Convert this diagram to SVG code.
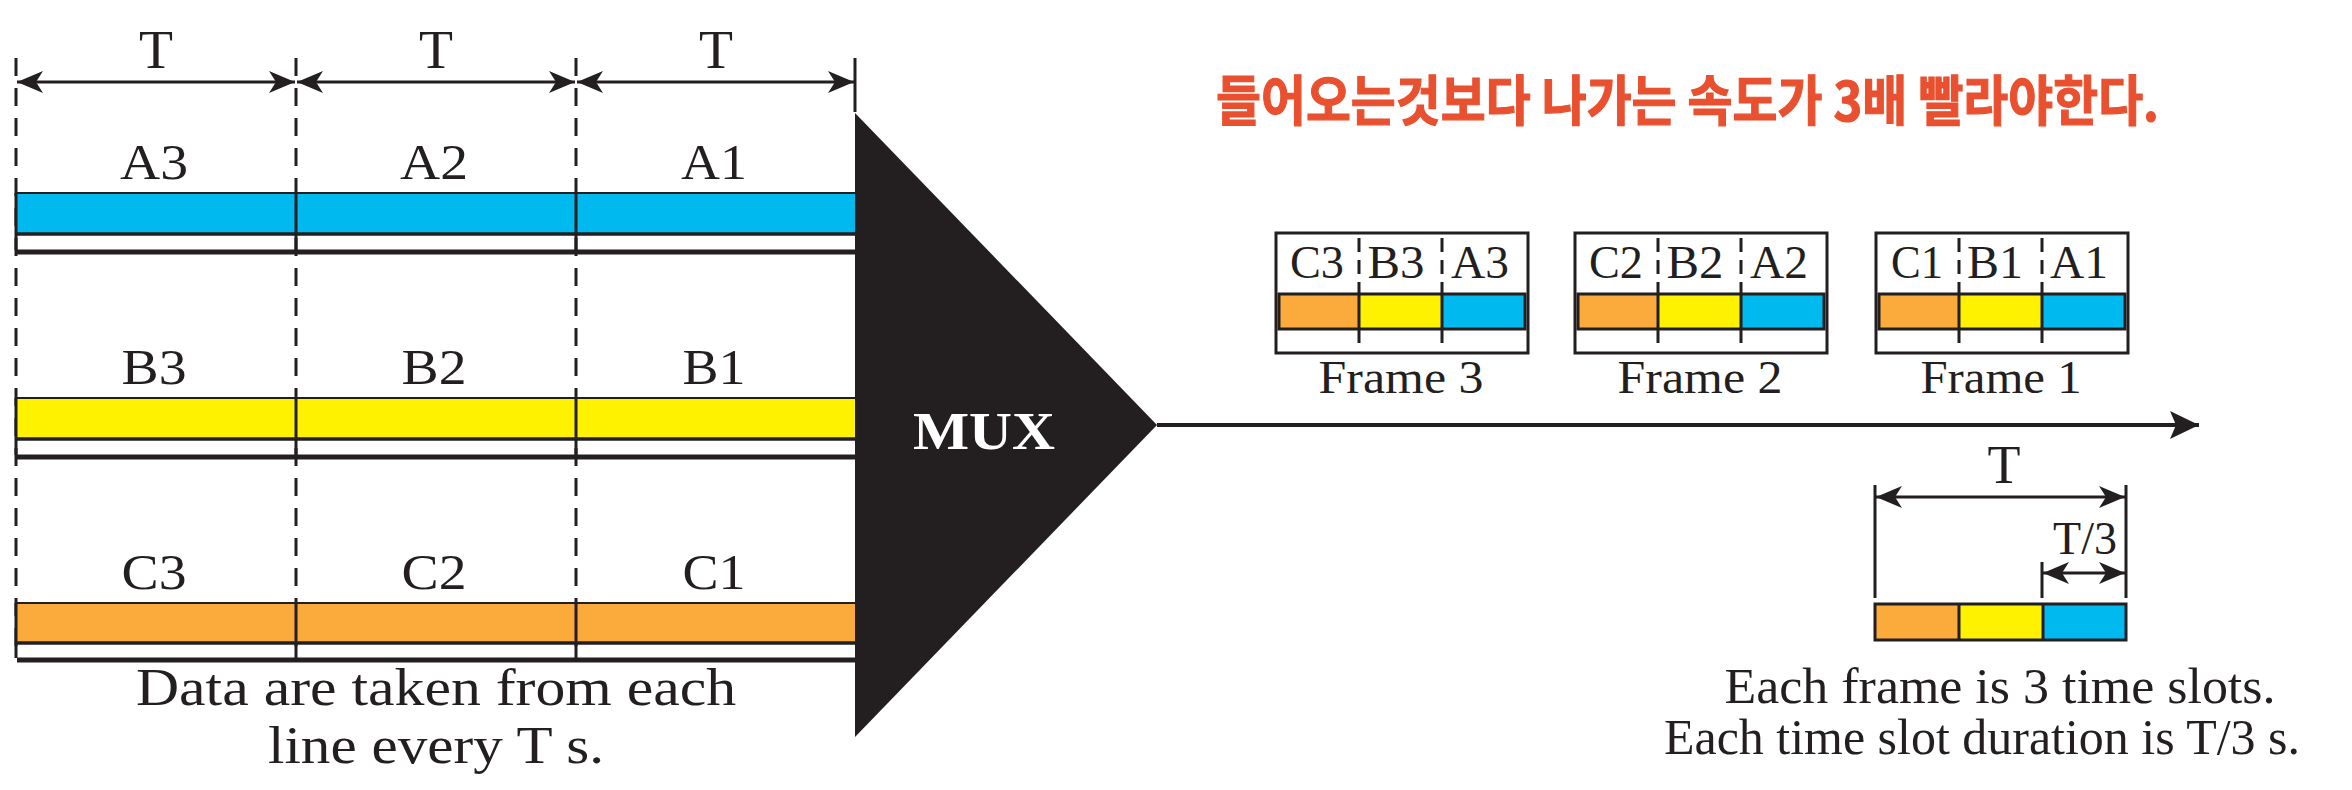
<svg xmlns="http://www.w3.org/2000/svg" width="2352" height="790" viewBox="0 0 2352 790">
<style>
.t{font-family:"Liberation Serif","Times New Roman",serif;fill:#231f20}
.c{text-anchor:middle}
.big{font-size:54px}
.lbl{font-size:51px}
.fl{font-size:46px}
.dash{stroke:#231f20;stroke-width:3;stroke-dasharray:18 12;fill:none}
.sol{stroke:#231f20;stroke-width:3;fill:none}
.ar{stroke:#231f20;stroke-width:3;fill:none;marker-start:url(#ah);marker-end:url(#ah)}
.blue{fill:#00b9ef}
.yel{fill:#fff200}
.org{fill:#fbaa3c}
.edge{stroke:#231f20;fill:none}
.kor{font-family:"Noto Sans CJK KR","Noto Sans",sans-serif;font-weight:700;fill:#e9502f;stroke:#e9502f;stroke-width:1.2;font-size:54px}
</style>
<defs>
<marker id="ah" markerUnits="userSpaceOnUse" viewBox="-28 -14 30 28" markerWidth="30" markerHeight="28" refX="0" refY="0" orient="auto-start-reverse">
<path d="M0,0 L-26,-11 L-19,0 L-26,11 Z" fill="#231f20"/>
</marker>
<marker id="ahb" markerUnits="userSpaceOnUse" viewBox="-32 -16 34 32" markerWidth="34" markerHeight="32" refX="0" refY="0" orient="auto">
<path d="M0,0 L-29,-14 L-23,0 L-29,14 Z" fill="#231f20"/>
</marker>
</defs>
<rect width="2352" height="790" fill="#ffffff"/>

<g id="input-timing">
<line class="dash" x1="16" y1="58" x2="16" y2="655"/>
<line class="dash" x1="296" y1="58" x2="296" y2="655"/>
<line class="dash" x1="576" y1="58" x2="576" y2="655"/>
<line class="sol" x1="855" y1="58" x2="855" y2="112"/>
<line class="ar" x1="17" y1="82" x2="295" y2="82"/>
<line class="ar" x1="297" y1="82" x2="575" y2="82"/>
<line class="ar" x1="577" y1="82" x2="854" y2="82"/>
<text class="t c big" x="156" y="68" textLength="34" lengthAdjust="spacingAndGlyphs">T</text>
<text class="t c big" x="436" y="68" textLength="34" lengthAdjust="spacingAndGlyphs">T</text>
<text class="t c big" x="716" y="68" textLength="34" lengthAdjust="spacingAndGlyphs">T</text>
</g>

<g id="line-a">
<rect class="blue" x="16" y="193" width="839" height="41"/>
<line class="edge" x1="16" y1="193" x2="855" y2="193" stroke-width="2"/>
<line class="edge" x1="16" y1="234" x2="855" y2="234" stroke-width="3.5"/>
<line class="edge" x1="17" y1="252" x2="855" y2="252" stroke-width="5"/>
<path class="sol" d="M16,193 V250 M296,193 V250 M576,193 V250"/>
<text class="t c lbl" x="154" y="179" textLength="68" lengthAdjust="spacingAndGlyphs">A3</text>
<text class="t c lbl" x="434" y="179" textLength="68" lengthAdjust="spacingAndGlyphs">A2</text>
<text class="t c lbl" x="714" y="179" textLength="66" lengthAdjust="spacingAndGlyphs">A1</text>
</g>

<g id="line-b">
<rect class="yel" x="16" y="398" width="839" height="41"/>
<line class="edge" x1="16" y1="398" x2="855" y2="398" stroke-width="2"/>
<line class="edge" x1="16" y1="439" x2="855" y2="439" stroke-width="3.5"/>
<line class="edge" x1="17" y1="457" x2="855" y2="457" stroke-width="5"/>
<path class="sol" d="M16,398 V455 M296,398 V455 M576,398 V455"/>
<text class="t c lbl" x="154" y="384" textLength="65" lengthAdjust="spacingAndGlyphs">B3</text>
<text class="t c lbl" x="434" y="384" textLength="65" lengthAdjust="spacingAndGlyphs">B2</text>
<text class="t c lbl" x="714" y="384" textLength="63" lengthAdjust="spacingAndGlyphs">B1</text>
</g>

<g id="line-c">
<rect class="org" x="16" y="603" width="839" height="41"/>
<line class="edge" x1="16" y1="603" x2="855" y2="603" stroke-width="2"/>
<line class="edge" x1="16" y1="643" x2="855" y2="643" stroke-width="3.5"/>
<line class="edge" x1="17" y1="660" x2="855" y2="660" stroke-width="5"/>
<path class="sol" d="M16,603 V658 M296,603 V658 M576,603 V658"/>
<text class="t c lbl" x="154" y="589" textLength="65" lengthAdjust="spacingAndGlyphs">C3</text>
<text class="t c lbl" x="434" y="589" textLength="65" lengthAdjust="spacingAndGlyphs">C2</text>
<text class="t c lbl" x="714" y="589" textLength="63" lengthAdjust="spacingAndGlyphs">C1</text>
</g>

<g id="input-caption">
<text class="t" x="136" y="705" font-size="53" textLength="600" lengthAdjust="spacingAndGlyphs">Data are taken from each</text>
<text class="t" x="268" y="763" font-size="53" textLength="336" lengthAdjust="spacingAndGlyphs">line every T s.</text>
</g>

<g id="mux">
<polygon points="855,113 1157,425 855,737" fill="#231f20"/>
<text x="913" y="449" font-family="Liberation Serif,Times New Roman,serif" font-weight="700" font-size="53" fill="#ffffff" textLength="142" lengthAdjust="spacingAndGlyphs">MUX</text>
</g>

<g id="connectors">
<line x1="1157" y1="425" x2="2199" y2="425" stroke="#231f20" stroke-width="4" marker-end="url(#ahb)"/>
</g>

<g id="note">
<text class="kor" x="1216" y="121" textLength="943" lengthAdjust="spacingAndGlyphs">들어오는것보다 나가는 속도가 3배 빨라야한다.</text>
</g>

<g id="frame-3">
<rect x="1276" y="233" width="252" height="120" fill="#ffffff" stroke="#231f20" stroke-width="3"/>
<rect class="org" x="1279" y="294" width="80" height="35"/>
<rect class="yel" x="1359" y="294" width="83" height="35"/>
<rect class="blue" x="1442" y="294" width="83" height="35"/>
<rect class="edge" x="1279" y="294" width="246" height="35" stroke-width="3"/>
<path class="sol" d="M1359,294 V329 M1442,294 V329"/>
<path class="sol" stroke-dasharray="14 8" d="M1359,238 V294 M1442,238 V294 M1359,329 V345 M1442,329 V345"/>
<text class="t c fl" x="1317" y="278" textLength="54" lengthAdjust="spacingAndGlyphs">C3</text>
<text class="t c fl" x="1396" y="278" textLength="57" lengthAdjust="spacingAndGlyphs">B3</text>
<text class="t c fl" x="1480" y="278" textLength="58" lengthAdjust="spacingAndGlyphs">A3</text>
<text class="t c fl" x="1401" y="393" textLength="165" lengthAdjust="spacingAndGlyphs">Frame 3</text>
</g>

<g id="frame-2">
<rect x="1575" y="233" width="252" height="120" fill="#ffffff" stroke="#231f20" stroke-width="3"/>
<rect class="org" x="1578" y="294" width="80" height="35"/>
<rect class="yel" x="1658" y="294" width="83" height="35"/>
<rect class="blue" x="1741" y="294" width="83" height="35"/>
<rect class="edge" x="1578" y="294" width="246" height="35" stroke-width="3"/>
<path class="sol" d="M1658,294 V329 M1741,294 V329"/>
<path class="sol" stroke-dasharray="14 8" d="M1658,238 V294 M1741,238 V294 M1658,329 V345 M1741,329 V345"/>
<text class="t c fl" x="1616" y="278" textLength="54" lengthAdjust="spacingAndGlyphs">C2</text>
<text class="t c fl" x="1695" y="278" textLength="57" lengthAdjust="spacingAndGlyphs">B2</text>
<text class="t c fl" x="1779" y="278" textLength="58" lengthAdjust="spacingAndGlyphs">A2</text>
<text class="t c fl" x="1700" y="393" textLength="165" lengthAdjust="spacingAndGlyphs">Frame 2</text>
</g>

<g id="frame-1">
<rect x="1876" y="233" width="252" height="120" fill="#ffffff" stroke="#231f20" stroke-width="3"/>
<rect class="org" x="1879" y="294" width="80" height="35"/>
<rect class="yel" x="1959" y="294" width="83" height="35"/>
<rect class="blue" x="2042" y="294" width="83" height="35"/>
<rect class="edge" x="1879" y="294" width="246" height="35" stroke-width="3"/>
<path class="sol" d="M1959,294 V329 M2042,294 V329"/>
<path class="sol" stroke-dasharray="14 8" d="M1959,238 V294 M2042,238 V294 M1959,329 V345 M2042,329 V345"/>
<text class="t c fl" x="1917" y="278" textLength="52" lengthAdjust="spacingAndGlyphs">C1</text>
<text class="t c fl" x="1995" y="278" textLength="56" lengthAdjust="spacingAndGlyphs">B1</text>
<text class="t c fl" x="2079" y="278" textLength="58" lengthAdjust="spacingAndGlyphs">A1</text>
<text class="t c fl" x="2001" y="393" textLength="161" lengthAdjust="spacingAndGlyphs">Frame 1</text>
</g>

<g id="slot-legend">
<path class="sol" d="M1875,485 V598 M2126,485 V598 M2042,562 V598"/>
<line class="ar" x1="1876" y1="497" x2="2125" y2="497"/>
<line class="ar" x1="2043" y1="573" x2="2125" y2="573"/>
<text class="t c big" x="2004" y="483">T</text>
<text class="t c fl" x="2085" y="554">T/3</text>
<rect class="org" x="1875" y="604" width="84" height="36"/>
<rect class="yel" x="1959" y="604" width="84" height="36"/>
<rect class="blue" x="2043" y="604" width="83" height="36"/>
<rect class="edge" x="1875" y="604" width="251" height="36" stroke-width="3"/>
<path class="sol" d="M1959,604 V640 M2043,604 V640"/>
<text class="t c lbl" x="2000" y="703" textLength="551" lengthAdjust="spacingAndGlyphs">Each frame is 3 time slots.</text>
<text class="t lbl" x="1664" y="754" textLength="636" lengthAdjust="spacingAndGlyphs">Each time slot duration is T/3 s.</text>
</g>
</svg>
